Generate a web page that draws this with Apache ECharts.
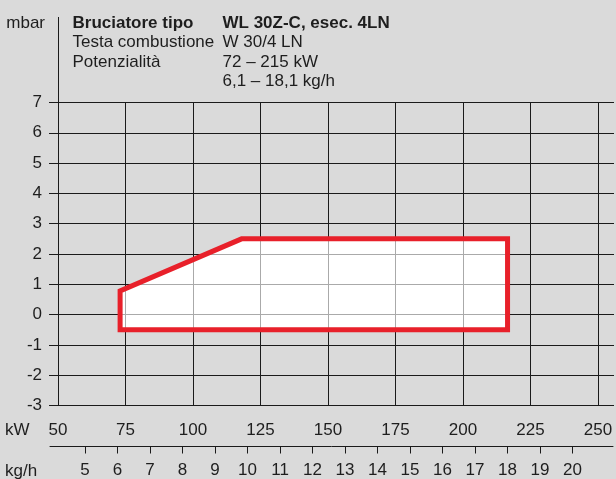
<!DOCTYPE html>
<html>
<head>
<meta charset="utf-8">
<script src="https://cdn.jsdelivr.net/npm/echarts@6/dist/echarts.min.js"></script>
<style>
  html, body { margin: 0; padding: 0; background: #dadada; }
  #chart { width: 616px; height: 479px; }
</style>
</head>
<body>
<div id="chart"></div>
<script>
// campo di lavoro del bruciatore (potenza kW / pressione mbar)
const envelopeKw = [73, 73, 118, 216.5, 216.5];
const envelopeMbar = [-0.5, 0.78, 2.5, 2.5, -0.5];

// tacche degli assi
const kwTicks = [50, 75, 100, 125, 150, 175, 200, 225, 250];
const mbarTicks = [-3, -2, -1, 0, 1, 2, 3, 4, 5, 6, 7];
const kghTicks = [5, 6, 7, 8, 9, 10, 11, 12, 13, 14, 15, 16, 17, 18, 19, 20];

// intestazione
const headerLabels = ["Bruciatore tipo", "Testa combustione", "Potenzialità", ""];
const headerValues = ["WL 30Z-C, esec. 4LN", "W 30/4 LN", "72 – 215 kW", "6,1 – 18,1 kg/h"];

const FONT = '"Liberation Sans", Arial, sans-serif';
const FS = 17;
const TEXT = "#1e1e1e";
const LINE = "#1a1a1a";
const RED = "#e8202a";

const GRID_LEFT = 58;
const GRID_TOP = 102.5;
const GRID_BOTTOM = 73.5;

const chart = echarts.init(document.getElementById("chart"));

// disegna il poligono del campo di lavoro dai punti dati
const envelopeShape = (fill, stroke, lineWidth) => (params, api) => {
  if (params.dataIndex !== 0) return;
  const pts = envelopeKw.map((kw, i) => api.coord([kw, envelopeMbar[i]]));
  return {
    type: "polygon",
    shape: { points: pts },
    style: { fill: fill, stroke: stroke, lineWidth: lineWidth, lineJoin: "miter" },
  };
};

const envelopeData = envelopeKw.map((kw, i) => [kw, envelopeMbar[i]]);

const headerText = [];
headerLabels.forEach((t, i) => {
  const font = (i === 0 ? "bold " : "") + FS + "px " + FONT;
  headerText.push({
    type: "text",
    style: { text: t, x: 72.5, y: 23 + i * 19.6, verticalAlign: "middle", font: font, fill: TEXT },
  });
  headerText.push({
    type: "text",
    style: { text: headerValues[i], x: 222.5, y: 23 + i * 19.6, verticalAlign: "middle", font: font, fill: TEXT },
  });
});

const option = {
  backgroundColor: "#dadada",
  animation: false,
  grid: [
    // griglia dati kW
    { left: GRID_LEFT, right: 18, top: GRID_TOP, bottom: GRID_BOTTOM },
    // linee orizzontali più larghe
    { left: GRID_LEFT, right: 2, top: GRID_TOP, bottom: GRID_BOTTOM },
    // asse kg/h
    { left: 50, right: 3, top: 445.5, bottom: 32.5 },
  ],
  xAxis: [
    {
      gridIndex: 0, type: "value", min: kwTicks[0], max: kwTicks[kwTicks.length - 1], interval: 25, z: 3,
      axisLine: { lineStyle: { color: LINE, width: 1 } },
      axisTick: { length: 8, lineStyle: { color: LINE } },
      axisLabel: { margin: 16, color: TEXT, fontFamily: FONT, fontSize: FS },
      splitLine: { show: true, lineStyle: { color: LINE, width: 1 } },
    },
    { gridIndex: 1, type: "value", min: 0, max: 1, show: false },
    {
      gridIndex: 2, type: "value", min: 3.92, max: 21.25, z: 3,
      axisLine: { onZero: false, lineStyle: { color: LINE, width: 1 } },
      axisTick: { length: 7, customValues: kghTicks, lineStyle: { color: LINE } },
      axisLabel: { margin: 15, customValues: kghTicks, color: TEXT, fontFamily: FONT, fontSize: FS },
      splitLine: { show: false },
    },
  ],
  yAxis: [
    {
      gridIndex: 0, type: "value", min: mbarTicks[0], max: mbarTicks[mbarTicks.length - 1], interval: 1,
      axisLine: { show: false }, axisTick: { show: false }, axisLabel: { show: false }, splitLine: { show: false },
    },
    {
      gridIndex: 1, type: "value", min: mbarTicks[0], max: mbarTicks[mbarTicks.length - 1], interval: 1, z: 3,
      axisLine: { show: true, onZero: false, lineStyle: { color: LINE, width: 1 } },
      axisTick: { show: true, length: 9, lineStyle: { color: LINE } },
      axisLabel: { margin: 16, color: TEXT, fontFamily: FONT, fontSize: FS },
      splitLine: { show: true, lineStyle: { color: LINE, width: 1 } },
    },
    { gridIndex: 2, type: "value", show: false },
  ],
  series: [
    {
      // fondo bianco sotto la griglia
      type: "custom", xAxisIndex: 0, yAxisIndex: 0, z: 1, silent: true, clip: false,
      data: envelopeData, encode: { x: 0, y: 1 },
      renderItem: envelopeShape("#ffffff", null, 0),
    },
    {
      // velo bianco e bordo rosso sopra la griglia
      type: "custom", xAxisIndex: 0, yAxisIndex: 0, z: 5, silent: true, clip: false,
      data: envelopeData, encode: { x: 0, y: 1 },
      renderItem: envelopeShape("rgba(255,255,255,0.63)", RED, 5),
    },
  ],
  graphic: [
    // prolungamento dell'asse y verso l'alto
    { type: "line", z: 3, shape: { x1: GRID_LEFT + 0.5, y1: 17, x2: GRID_LEFT + 0.5, y2: GRID_TOP }, style: { stroke: LINE, lineWidth: 1 } },
    { type: "text", style: { text: "mbar", x: 45, y: 23, align: "right", verticalAlign: "middle", font: FS + "px " + FONT, fill: TEXT } },
    { type: "text", style: { text: "kW", x: 5, y: 430, verticalAlign: "middle", font: FS + "px " + FONT, fill: TEXT } },
    { type: "text", style: { text: "kg/h", x: 5, y: 471, verticalAlign: "middle", font: FS + "px " + FONT, fill: TEXT } },
  ].concat(headerText),
};

chart.setOption(option);
</script>
</body>
</html>
